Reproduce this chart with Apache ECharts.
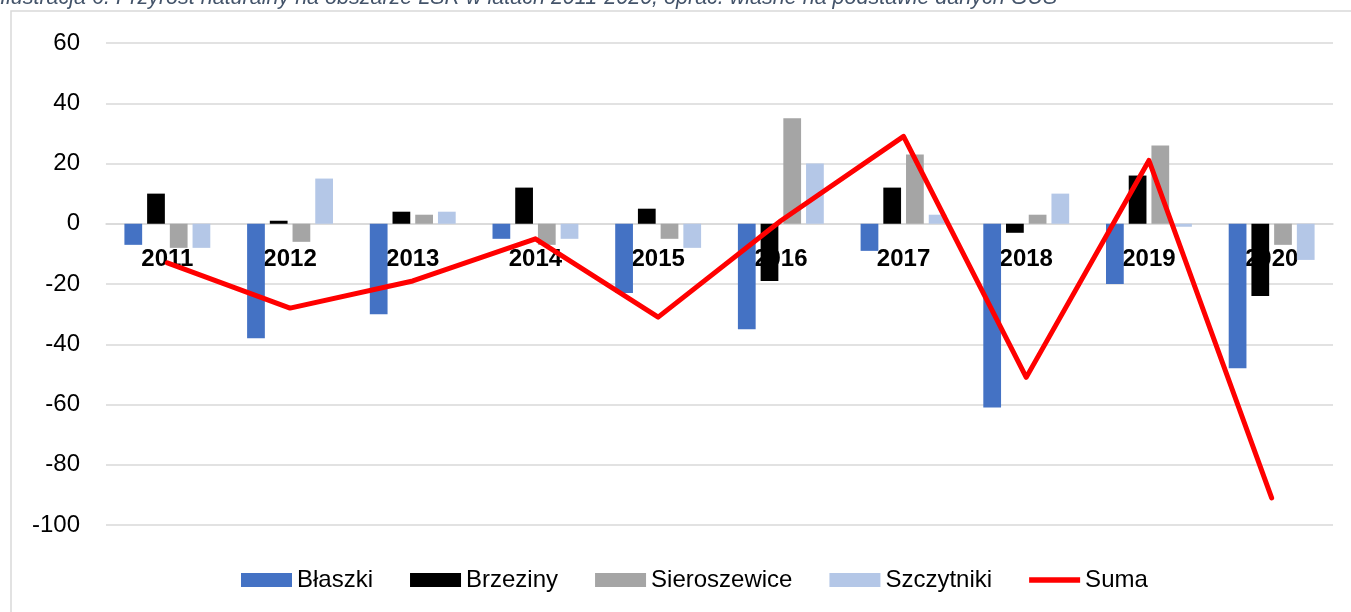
<!DOCTYPE html>
<html>
<head>
<meta charset="utf-8">
<script src="https://cdn.jsdelivr.net/npm/echarts@6/dist/echarts.min.js"></script>
<style>
  html, body { margin: 0; padding: 0; background: #fff; }
  #chart { width: 1351px; height: 612px; }
</style>
</head>
<body>
<div id="chart"></div>
<script>
// dane z wykresu
var years = ['2011', '2012', '2013', '2014', '2015', '2016', '2017', '2018', '2019', '2020'];
var blaszki = [-7, -38, -30, -5, -23, -35, -9, -61, -20, -48];
var brzeziny = [10, 1, 4, 12, 5, -19, 12, -3, 16, -24];
var sieroszewice = [-8, -6, 3, -7, -5, 35, 23, 3, 26, -7];
var szczytniki = [-8, 15, 4, -5, -8, 20, 3, 10, -1, -12];
var suma = [-13, -28, -19, -5, -31, 1, 29, -51, 21, -91];
var yTicks = [-100, -80, -60, -40, -20, 0, 20, 40, 60];

var font = '"Liberation Sans", Arial, sans-serif';

var myChart = echarts.init(document.getElementById('chart'));

function barSeries(name, data, color) {
    return {
        name: name,
        type: 'bar',
        data: data,
        barGap: '28%',
        barCategoryGap: '30%',
        itemStyle: { color: color },
        z: 2
    };
}

var option = {
    animation: false,
    backgroundColor: '#fff',
    graphic: [
        {
            type: 'text',
            left: 0,
            top: -13,
            style: {
                text: 'Ilustracja 6. Przyrost naturalny na obszarze LSR w latach 2011-2020, oprac. własne na podstawie danych GUS',
                font: 'italic 21.5px ' + font,
                fill: '#44546A'
            }
        },
        {
            type: 'rect',
            shape: { x: 11, y: 11, width: 1400, height: 700 },
            style: { fill: 'none', stroke: '#D9D9D9', lineWidth: 1.5 },
            silent: true
        }
    ],
    grid: {
        left: 106,
        right: 18,
        top: 43,
        bottom: 87
    },
    legend: {
        bottom: 15,
        left: 236,
        itemWidth: 51,
        itemHeight: 14,
        itemGap: 37,
        textStyle: { fontFamily: font, fontSize: 24, color: '#000' },
        data: [
            { name: 'Błaszki', icon: 'rect' },
            { name: 'Brzeziny', icon: 'rect' },
            { name: 'Sieroszewice', icon: 'rect' },
            { name: 'Szczytniki', icon: 'rect' },
            { name: 'Suma', icon: 'path://M0,0h100v11h-100z' }
        ]
    },
    xAxis: {
        type: 'category',
        data: years,
        // etykiety lat przy linii zera (jak w Excelu)
        offset: -301,
        axisLine: { onZero: false, lineStyle: { color: '#D9D9D9', width: 1.5 } },
        axisTick: { show: false },
        axisLabel: {
            margin: 23,
            fontFamily: font,
            fontSize: 24,
            fontWeight: 'bold',
            color: '#000'
        }
    },
    yAxis: {
        type: 'value',
        min: yTicks[0],
        max: yTicks[yTicks.length - 1],
        interval: 20,
        axisLine: { show: false },
        axisTick: { show: false },
        axisLabel: {
            margin: 26,
            fontFamily: font,
            fontSize: 24,
            color: '#000'
        },
        splitLine: { lineStyle: { color: '#D9D9D9', width: 1.5 } }
    },
    series: [
        barSeries('Błaszki', blaszki, '#4472C4'),
        barSeries('Brzeziny', brzeziny, '#000000'),
        barSeries('Sieroszewice', sieroszewice, '#A5A5A5'),
        barSeries('Szczytniki', szczytniki, '#B4C7E7'),
        {
            name: 'Suma',
            type: 'line',
            data: suma,
            symbol: 'none',
            lineStyle: { color: '#FF0000', width: 5, cap: 'round', join: 'round' },
            itemStyle: { color: '#FF0000' },
            z: 5
        }
    ]
};
myChart.setOption(option);
</script>
</body>
</html>
